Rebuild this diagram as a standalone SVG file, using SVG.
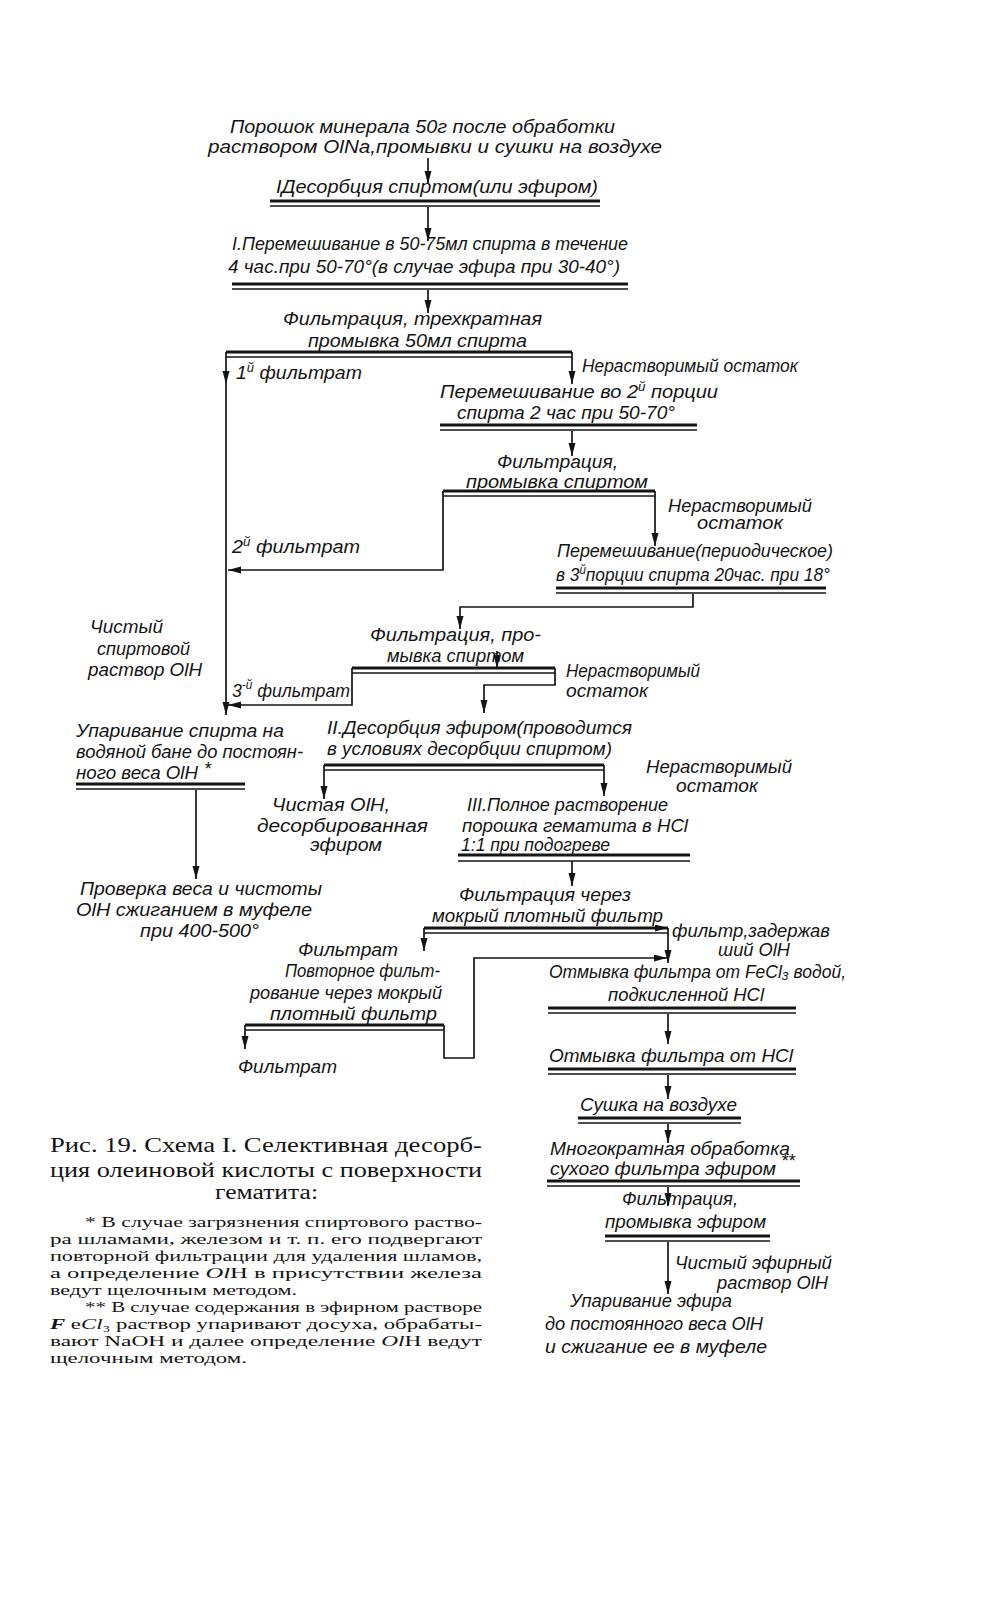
<svg xmlns="http://www.w3.org/2000/svg" width="994" height="1600" viewBox="0 0 994 1600">
<style>
.t{font-family:"Liberation Sans","DejaVu Sans",sans-serif;font-style:italic;font-size:18px;fill:#141414}
.c{font-family:"Liberation Serif","DejaVu Serif",serif;font-size:20px;fill:#141414}
.f{font-family:"Liberation Serif","DejaVu Serif",serif;font-size:15px;fill:#141414}
.i{font-style:italic}
.s{font-size:12px}
.k{stroke:#141414;stroke-width:2.8;fill:none}
.n{stroke:#141414;stroke-width:1.3;fill:none}
.l{stroke:#141414;stroke-width:1.7;fill:none}
.a{marker-end:url(#ah)}
</style>
<defs>
<marker id="ah" markerUnits="userSpaceOnUse" markerWidth="14" markerHeight="8" refX="13" refY="3.5" orient="auto">
<path d="M0,0 L13,3.5 L0,7 z" fill="#141414"/>
</marker>
</defs>
<rect width="994" height="1600" fill="#ffffff"/>

<g id="connectors">
<path class="l a" d="M428,158 V184"/>
<path class="l a" d="M428,207 V241"/>
<path class="l a" d="M428,290 V313"/>
<path class="k" d="M226,352 H572"/>
<path class="n" d="M226,357 H572"/>
<path class="l a" d="M226,352 V384"/>
<path class="l a" d="M226,384 V715"/>
<path class="l a" d="M572,352 V384"/>
<path class="l a" d="M572,431 V456"/>
<path class="k" d="M443,491 H655"/>
<path class="n" d="M443,496 H655"/>
<path class="l a" d="M443,491 V570 H228"/>
<path class="l a" d="M655,491 V546"/>
<path class="l a" d="M693,594 V607 H460 V629"/>
<path class="l a" d="M497,651 V668"/>
<path class="k" d="M352,668 H555"/>
<path class="n" d="M352,673 H555"/>
<path class="l a" d="M352,668 V705 H228"/>
<path class="l a" d="M555,668 V685 H484 V713"/>
<path class="l a" d="M196,790 V879"/>
<path class="k" d="M324,765 H604"/>
<path class="n" d="M324,770 H604"/>
<path class="l a" d="M324,765 V799"/>
<path class="l a" d="M604,765 V796"/>
<path class="l a" d="M572,861 V886"/>
<path class="k a" d="M424,928 H668"/>
<path class="n" d="M424,933 H668"/>
<path class="l a" d="M424,928 V951"/>
<path class="l a" d="M668,928 V963"/>
<path class="k" d="M245,1025 H444"/>
<path class="n" d="M245,1030 H444"/>
<path class="l a" d="M245,1025 V1049"/>
<path class="l a" d="M444,1025 V1058 H474 V958 H667"/>
<path class="l a" d="M668,1014 V1044"/>
<path class="l a" d="M668,1075 V1099"/>
<path class="l a" d="M668,1124 V1143"/>
<path class="l a" d="M668,1187 V1206"/>
<path class="l a" d="M668,1242 V1294"/>
</g>

<g id="n1"><text class="t" x="230" y="133" textLength="385" lengthAdjust="spacingAndGlyphs">Порошок минерала 50г после обработки</text>
<text class="t" x="208" y="153" textLength="454" lengthAdjust="spacingAndGlyphs">раствором OlNa,промывки и сушки на воздухе</text></g>

<g id="n2"><text class="t" x="276" y="193" textLength="322" lengthAdjust="spacingAndGlyphs">IДесорбция спиртом(или эфиром)</text>
<path class="k" d="M270,201 H600"/><path class="n" d="M270,206 H600"/></g>

<g id="n3"><text class="t" x="232" y="250" textLength="396" lengthAdjust="spacingAndGlyphs">I.Перемешивание в 50-75мл спирта в течение</text>
<text class="t" x="228" y="273" textLength="392" lengthAdjust="spacingAndGlyphs">4 час.при 50-70°(в случае эфира при 30-40°)</text>
<path class="k" d="M232,284 H628"/><path class="n" d="M232,289 H628"/></g>

<g id="n4"><text class="t" x="283" y="325" textLength="259" lengthAdjust="spacingAndGlyphs">Фильтрация, трехкратная</text>
<text class="t" x="308" y="347" textLength="219" lengthAdjust="spacingAndGlyphs">промывка 50мл спирта</text></g>

<g id="l1"><text class="t" x="236" y="379" textLength="126" lengthAdjust="spacingAndGlyphs">1<tspan class="s" dy="-7">й</tspan><tspan dy="7"> фильтрат</tspan></text></g>
<g id="l2"><text class="t" x="582" y="372" textLength="216" lengthAdjust="spacingAndGlyphs">Нерастворимый остаток</text></g>

<g id="n5"><text class="t" x="440" y="398" textLength="278" lengthAdjust="spacingAndGlyphs">Перемешивание во 2<tspan class="s" dy="-7">й</tspan><tspan dy="7"> порции</tspan></text>
<text class="t" x="457" y="419" textLength="218" lengthAdjust="spacingAndGlyphs">спирта 2 час при 50-70°</text>
<path class="k" d="M440,425 H697"/><path class="n" d="M440,430 H697"/></g>

<g id="n6"><text class="t" x="497" y="468" textLength="121" lengthAdjust="spacingAndGlyphs">Фильтрация,</text>
<text class="t" x="466" y="488" textLength="182" lengthAdjust="spacingAndGlyphs">промывка спиртом</text></g>

<g id="l3"><text class="t" x="668" y="512" textLength="144" lengthAdjust="spacingAndGlyphs">Нерастворимый</text>
<text class="t" x="697" y="529" textLength="86" lengthAdjust="spacingAndGlyphs">остаток</text></g>
<g id="l4"><text class="t" x="232" y="553" textLength="128" lengthAdjust="spacingAndGlyphs">2<tspan class="s" dy="-7">й</tspan><tspan dy="7"> фильтрат</tspan></text></g>

<g id="n7"><text class="t" x="557" y="557" textLength="276" lengthAdjust="spacingAndGlyphs">Перемешивание(периодическое)</text>
<text class="t" x="556" y="581" textLength="274" lengthAdjust="spacingAndGlyphs">в 3<tspan class="s" dy="-7">й</tspan><tspan dy="7">порции спирта 20час. при 18°</tspan></text>
<path class="k" d="M556,588 H826"/><path class="n" d="M556,593 H826"/></g>

<g id="n8"><text class="t" x="90" y="633" textLength="73" lengthAdjust="spacingAndGlyphs">Чистый</text>
<text class="t" x="97" y="655" textLength="93" lengthAdjust="spacingAndGlyphs">спиртовой</text>
<text class="t" x="88" y="676" textLength="114" lengthAdjust="spacingAndGlyphs">раствор OlH</text></g>

<g id="n9"><text class="t" x="370" y="641" textLength="171" lengthAdjust="spacingAndGlyphs">Фильтрация, про-</text>
<text class="t" x="387" y="662" textLength="137" lengthAdjust="spacingAndGlyphs">мывка спиртом</text></g>

<g id="l5"><text class="t" x="232" y="697" textLength="118" lengthAdjust="spacingAndGlyphs">3<tspan class="s" dy="-8">-й</tspan><tspan dy="8"> фильтрат</tspan></text></g>
<g id="l6"><text class="t" x="566" y="677" textLength="134" lengthAdjust="spacingAndGlyphs">Нерастворимый</text>
<text class="t" x="566" y="697" textLength="82" lengthAdjust="spacingAndGlyphs">остаток</text></g>

<g id="n10"><text class="t" x="76" y="737" textLength="208" lengthAdjust="spacingAndGlyphs">Упаривание спирта на</text>
<text class="t" x="76" y="758" textLength="227" lengthAdjust="spacingAndGlyphs">водяной бане до постоян-</text>
<text class="t" x="76" y="779" textLength="122" lengthAdjust="spacingAndGlyphs">ного веса OlH</text>
<text class="t" x="204" y="775" font-size="13">*</text>
<path class="k" d="M76,784 H245"/><path class="n" d="M76,789 H245"/></g>

<g id="n11"><text class="t" x="327" y="734" textLength="305" lengthAdjust="spacingAndGlyphs">II.Десорбция эфиром(проводится</text>
<text class="t" x="327" y="755" textLength="285" lengthAdjust="spacingAndGlyphs">в условиях десорбции спиртом)</text></g>

<g id="l7"><text class="t" x="646" y="773" textLength="146" lengthAdjust="spacingAndGlyphs">Нерастворимый</text>
<text class="t" x="676" y="792" textLength="82" lengthAdjust="spacingAndGlyphs">остаток</text></g>

<g id="n12"><text class="t" x="272" y="811" textLength="118" lengthAdjust="spacingAndGlyphs">Чистая OlH,</text>
<text class="t" x="257" y="832" textLength="171" lengthAdjust="spacingAndGlyphs">десорбированная</text>
<text class="t" x="310" y="851" textLength="72" lengthAdjust="spacingAndGlyphs">эфиром</text></g>

<g id="n13"><text class="t" x="467" y="811" textLength="201" lengthAdjust="spacingAndGlyphs">III.Полное растворение</text>
<text class="t" x="462" y="832" textLength="226" lengthAdjust="spacingAndGlyphs">порошка гематита в HCl</text>
<text class="t" x="461" y="851" textLength="149" lengthAdjust="spacingAndGlyphs">1:1 при подогреве</text>
<path class="k" d="M458,855 H690"/><path class="n" d="M458,861 H690"/></g>

<g id="n14"><text class="t" x="80" y="895" textLength="242" lengthAdjust="spacingAndGlyphs">Проверка веса и чистоты</text>
<text class="t" x="76" y="916" textLength="236" lengthAdjust="spacingAndGlyphs">OlH сжиганием в муфеле</text>
<text class="t" x="140" y="937" textLength="119" lengthAdjust="spacingAndGlyphs">при 400-500°</text></g>

<g id="n15"><text class="t" x="459" y="901" textLength="172" lengthAdjust="spacingAndGlyphs">Фильтрация через</text>
<text class="t" x="432" y="922" textLength="231" lengthAdjust="spacingAndGlyphs">мокрый плотный фильтр</text></g>

<g id="l8"><text class="t" x="672" y="937" font-size="17" textLength="158" lengthAdjust="spacingAndGlyphs">фильтр,задержав</text>
<text class="t" x="718" y="956" font-size="17" textLength="72" lengthAdjust="spacingAndGlyphs">ший OlH</text></g>
<g id="l9"><text class="t" x="298" y="956" textLength="100" lengthAdjust="spacingAndGlyphs">Фильтрат</text></g>

<g id="n16"><text class="t" x="285" y="977" textLength="155" lengthAdjust="spacingAndGlyphs">Повторное фильт-</text>
<text class="t" x="250" y="999" textLength="192" lengthAdjust="spacingAndGlyphs">рование через мокрый</text>
<text class="t" x="270" y="1020" textLength="167" lengthAdjust="spacingAndGlyphs">плотный фильтр</text></g>

<g id="n17"><text class="t" x="238" y="1073" textLength="99" lengthAdjust="spacingAndGlyphs">Фильтрат</text></g>

<g id="n18"><text class="t" x="549" y="978" textLength="297" lengthAdjust="spacingAndGlyphs">Отмывка фильтра от FeCl₃ водой,</text>
<text class="t" x="608" y="1001" textLength="156" lengthAdjust="spacingAndGlyphs">подкисленной HCl</text>
<path class="k" d="M548,1008 H796"/><path class="n" d="M548,1013 H796"/></g>

<g id="n19"><text class="t" x="549" y="1062" textLength="244" lengthAdjust="spacingAndGlyphs">Отмывка фильтра от HCl</text>
<path class="k" d="M548,1069 H796"/><path class="n" d="M548,1074 H796"/></g>

<g id="n20"><text class="t" x="580" y="1111" textLength="157" lengthAdjust="spacingAndGlyphs">Сушка на воздухе</text>
<path class="k" d="M578,1118 H741"/><path class="n" d="M578,1123 H741"/></g>

<g id="n21"><text class="t" x="550" y="1155" textLength="240" lengthAdjust="spacingAndGlyphs">Многократная обработка</text>
<text class="t" x="550" y="1175" textLength="226" lengthAdjust="spacingAndGlyphs">сухого фильтра эфиром</text>
<text class="t" x="781" y="1167" font-size="13">**</text>
<path class="k" d="M547,1181 H800"/><path class="n" d="M547,1186 H800"/></g>

<g id="n22"><text class="t" x="622" y="1205" textLength="116" lengthAdjust="spacingAndGlyphs">Фильтрация,</text>
<text class="t" x="605" y="1228" textLength="161" lengthAdjust="spacingAndGlyphs">промывка эфиром</text>
<path class="k" d="M605,1236 H770"/><path class="n" d="M605,1241 H770"/></g>

<g id="l10"><text class="t" x="675" y="1269" textLength="157" lengthAdjust="spacingAndGlyphs">Чистый эфирный</text>
<text class="t" x="717" y="1289" textLength="111" lengthAdjust="spacingAndGlyphs">раствор OlH</text></g>

<g id="n23"><text class="t" x="570" y="1307" textLength="162" lengthAdjust="spacingAndGlyphs">Упаривание эфира</text>
<text class="t" x="545" y="1330" textLength="218" lengthAdjust="spacingAndGlyphs">до постоянного веса OlH</text>
<text class="t" x="545" y="1353" textLength="222" lengthAdjust="spacingAndGlyphs">и сжигание ее в муфеле</text></g>

<g id="caption">
<text class="c" x="50" y="1152" textLength="432" lengthAdjust="spacingAndGlyphs">Рис. 19. Схема I. Селективная десорб-</text>
<text class="c" x="50" y="1177" textLength="432" lengthAdjust="spacingAndGlyphs">ция  олеиновой  кислоты  с  поверхности</text>
<text class="c" x="215" y="1199" textLength="103" lengthAdjust="spacingAndGlyphs">гематита:</text>
<text class="f" x="85" y="1227" textLength="397" lengthAdjust="spacingAndGlyphs">* В случае загрязнения спиртового раство-</text>
<text class="f" x="50" y="1244" textLength="432" lengthAdjust="spacingAndGlyphs">ра шламами, железом и т. п. его подвергают</text>
<text class="f" x="50" y="1261" textLength="432" lengthAdjust="spacingAndGlyphs">повторной фильтрации для удаления шламов,</text>
<text class="f" x="50" y="1278" textLength="432" lengthAdjust="spacingAndGlyphs">а определение <tspan class="i">Ol</tspan>H   в присутствии   железа</text>
<text class="f" x="50" y="1295" textLength="247" lengthAdjust="spacingAndGlyphs">ведут щелочным методом.</text>
<text class="f" x="85" y="1312" textLength="397" lengthAdjust="spacingAndGlyphs">** В случае содержания в эфирном растворе</text>
<text class="f" x="50" y="1329" textLength="432" lengthAdjust="spacingAndGlyphs"><tspan class="i" font-weight="bold">F</tspan> e<tspan class="i">Cl</tspan>₃ раствор  упаривают  досуха,  обрабаты-</text>
<text class="f" x="50" y="1346" textLength="432" lengthAdjust="spacingAndGlyphs">вают NaOH и далее определение <tspan class="i">Ol</tspan>H ведут</text>
<text class="f" x="50" y="1363" textLength="197" lengthAdjust="spacingAndGlyphs">щелочным методом.</text>
</g>
</svg>
